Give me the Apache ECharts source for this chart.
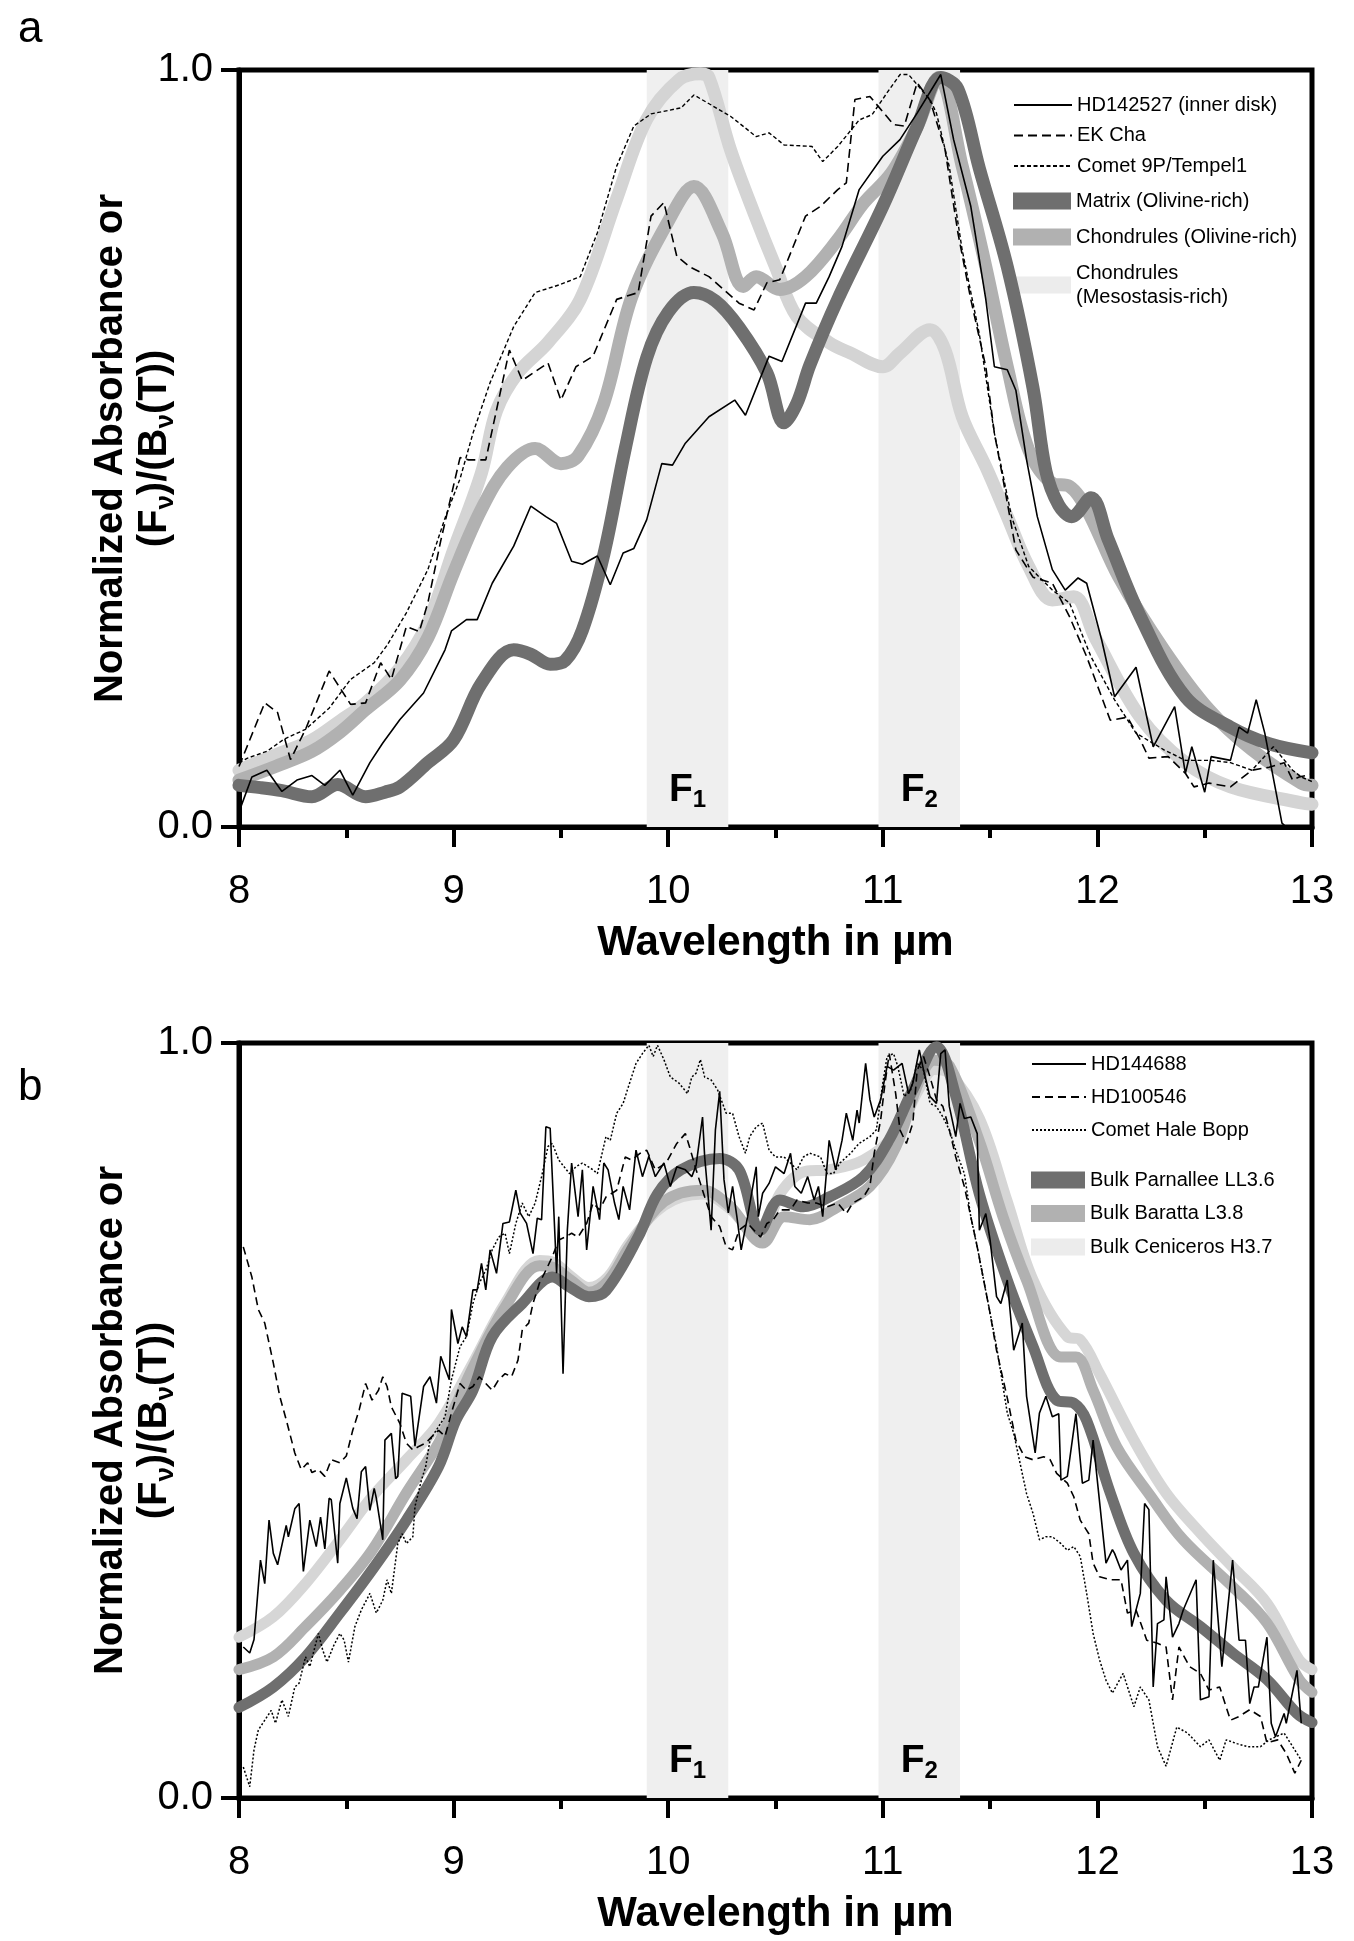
<!DOCTYPE html>
<html>
<head>
<meta charset="utf-8">
<script src="https://cdn.jsdelivr.net/npm/echarts@6/dist/echarts.min.js"></script>
<style>
html,body{margin:0;padding:0;background:#fff;}
#chart{width:1354px;height:1941px;}
</style>
</head>
<body>
<div id="chart"></div>
<script>
// ---------------- DATA ----------------
const xRange = [8, 13];
const yTickLabels = ['0.0', '1.0'];
const bandsF = [[9.90, 10.28, '1'], [10.98, 11.36, '2']];

// Panel a
const aMatrix = [[8.0,0.055],[8.1,0.052],[8.2,0.048],[8.34,0.040],[8.46,0.056],[8.59,0.040],[8.68,0.046],[8.75,0.053],[8.88,0.085],[9.0,0.115],[9.13,0.19],[9.28,0.234],[9.36,0.228],[9.45,0.215],[9.52,0.22],[9.6,0.26],[9.7,0.36],[9.8,0.50],[9.9,0.62],[10.0,0.68],[10.12,0.706],[10.22,0.695],[10.33,0.66],[10.46,0.60],[10.54,0.534],[10.6,0.56],[10.66,0.61],[10.79,0.697],[11.0,0.82],[11.16,0.925],[11.27,0.99],[11.35,0.975],[11.45,0.87],[11.58,0.74],[11.70,0.58],[11.76,0.47],[11.82,0.425],[11.88,0.41],[11.97,0.435],[12.05,0.38],[12.2,0.278],[12.41,0.172],[12.62,0.132],[12.8,0.11],[13.0,0.098]];
const aOlivine = [[8.0,0.062],[8.17,0.08],[8.34,0.10],[8.47,0.125],[8.59,0.155],[8.75,0.194],[8.88,0.25],[9.0,0.336],[9.13,0.42],[9.25,0.475],[9.38,0.50],[9.5,0.48],[9.58,0.49],[9.7,0.56],[9.83,0.70],[10.0,0.80],[10.12,0.846],[10.25,0.785],[10.35,0.714],[10.41,0.727],[10.52,0.71],[10.64,0.727],[10.79,0.776],[10.91,0.824],[11.04,0.864],[11.16,0.925],[11.26,0.99],[11.37,0.873],[11.48,0.74],[11.58,0.608],[11.68,0.498],[11.79,0.454],[11.87,0.45],[11.95,0.42],[12.1,0.33],[12.31,0.234],[12.52,0.155],[12.72,0.102],[12.95,0.058],[13.0,0.055]];
const aMeso = [[8.0,0.075],[8.17,0.095],[8.34,0.115],[8.47,0.14],[8.59,0.164],[8.75,0.21],[8.88,0.27],[9.0,0.366],[9.13,0.468],[9.2,0.55],[9.3,0.6],[9.44,0.64],[9.59,0.697],[9.76,0.83],[9.9,0.935],[10.05,0.987],[10.15,0.995],[10.19,0.99],[10.29,0.895],[10.4,0.811],[10.5,0.74],[10.6,0.674],[10.75,0.64],[10.85,0.626],[11.0,0.608],[11.08,0.626],[11.22,0.657],[11.29,0.63],[11.37,0.542],[11.48,0.476],[11.58,0.41],[11.68,0.344],[11.79,0.30],[11.89,0.304],[11.99,0.25],[12.2,0.145],[12.41,0.085],[12.62,0.053],[12.95,0.032],[13.0,0.03]];
const aHD142527 = [[8.0,0.02],[8.06,0.066],[8.13,0.075],[8.2,0.047],[8.27,0.062],[8.34,0.068],[8.4,0.055],[8.47,0.075],[8.53,0.042],[8.61,0.085],[8.67,0.111],[8.75,0.142],[8.86,0.177],[8.96,0.234],[8.99,0.259],[9.06,0.274],[9.11,0.274],[9.18,0.322],[9.28,0.371],[9.36,0.424],[9.43,0.41],[9.48,0.401],[9.55,0.351],[9.6,0.347],[9.67,0.358],[9.73,0.32],[9.79,0.362],[9.84,0.368],[9.9,0.406],[9.97,0.48],[10.02,0.478],[10.08,0.507],[10.19,0.542],[10.31,0.564],[10.36,0.544],[10.47,0.622],[10.53,0.615],[10.64,0.692],[10.69,0.692],[10.75,0.727],[10.81,0.767],[10.89,0.842],[11.0,0.886],[11.08,0.908],[11.16,0.943],[11.27,0.994],[11.33,0.908],[11.41,0.82],[11.48,0.697],[11.52,0.608],[11.58,0.604],[11.62,0.577],[11.67,0.485],[11.72,0.41],[11.79,0.34],[11.85,0.313],[11.91,0.329],[11.95,0.322],[12.02,0.247],[12.08,0.172],[12.18,0.211],[12.26,0.106],[12.36,0.159],[12.41,0.071],[12.44,0.106],[12.5,0.046],[12.53,0.093],[12.62,0.088],[12.66,0.132],[12.7,0.124],[12.74,0.168],[12.78,0.124],[12.86,0.005],[12.88,0.0]];
const aEKCha = [[8.0,0.08],[8.12,0.164],[8.18,0.151],[8.24,0.089],[8.31,0.129],[8.42,0.206],[8.52,0.162],[8.59,0.164],[8.66,0.217],[8.71,0.195],[8.78,0.265],[8.84,0.258],[8.88,0.296],[8.94,0.378],[9.03,0.488],[9.07,0.485],[9.15,0.485],[9.26,0.63],[9.32,0.59],[9.44,0.613],[9.5,0.564],[9.57,0.608],[9.65,0.622],[9.76,0.697],[9.86,0.706],[9.92,0.807],[9.98,0.825],[10.04,0.754],[10.1,0.74],[10.19,0.727],[10.33,0.692],[10.4,0.683],[10.46,0.719],[10.52,0.723],[10.64,0.807],[10.71,0.82],[10.79,0.842],[10.83,0.851],[10.87,0.961],[10.94,0.965],[11.05,0.928],[11.1,0.926],[11.16,0.983],[11.22,0.96],[11.29,0.895],[11.35,0.785],[11.41,0.697],[11.48,0.608],[11.52,0.52],[11.56,0.46],[11.62,0.366],[11.7,0.33],[11.79,0.322],[11.87,0.278],[11.95,0.225],[12.06,0.141],[12.14,0.145],[12.2,0.115],[12.24,0.091],[12.33,0.093],[12.41,0.071],[12.45,0.053],[12.52,0.058],[12.62,0.053],[12.72,0.075],[12.8,0.079],[12.87,0.085],[12.91,0.062],[12.94,0.066],[13.0,0.07]];
const aComet9P = [[8.0,0.085],[8.04,0.091],[8.13,0.10],[8.21,0.116],[8.31,0.129],[8.42,0.157],[8.52,0.195],[8.63,0.217],[8.69,0.24],[8.78,0.283],[8.88,0.34],[8.96,0.408],[9.03,0.46],[9.09,0.52],[9.17,0.587],[9.28,0.661],[9.38,0.706],[9.49,0.716],[9.59,0.727],[9.67,0.785],[9.76,0.873],[9.84,0.926],[9.92,0.942],[10.06,0.95],[10.12,0.967],[10.29,0.939],[10.41,0.912],[10.47,0.917],[10.54,0.901],[10.67,0.899],[10.72,0.879],[10.79,0.899],[10.89,0.934],[10.95,0.941],[11.02,0.97],[11.08,0.994],[11.12,0.994],[11.18,0.974],[11.22,0.961],[11.25,0.943],[11.31,0.872],[11.37,0.762],[11.45,0.651],[11.52,0.52],[11.6,0.41],[11.68,0.344],[11.79,0.313],[11.87,0.296],[11.97,0.225],[12.08,0.168],[12.18,0.124],[12.31,0.102],[12.41,0.088],[12.53,0.088],[12.62,0.085],[12.72,0.075],[12.82,0.106],[12.91,0.075],[12.95,0.066],[13.0,0.06]];

// Panel b
const bParnallee = [[8.0,0.12],[8.16,0.147],[8.31,0.187],[8.47,0.245],[8.62,0.302],[8.78,0.368],[8.93,0.439],[9.01,0.50],[9.09,0.54],[9.18,0.611],[9.32,0.655],[9.46,0.69],[9.54,0.677],[9.63,0.664],[9.71,0.672],[9.86,0.743],[9.95,0.80],[10.06,0.832],[10.24,0.847],[10.33,0.832],[10.43,0.752],[10.52,0.792],[10.63,0.783],[10.75,0.796],[10.91,0.823],[11.03,0.872],[11.14,0.938],[11.25,0.995],[11.34,0.93],[11.45,0.80],[11.58,0.686],[11.70,0.598],[11.81,0.527],[11.89,0.523],[11.95,0.50],[12.06,0.404],[12.17,0.324],[12.32,0.262],[12.48,0.227],[12.63,0.192],[12.79,0.157],[12.93,0.112],[13.0,0.10]];
const bBaratta = [[8.0,0.17],[8.16,0.187],[8.31,0.227],[8.47,0.275],[8.62,0.328],[8.78,0.404],[8.93,0.47],[9.01,0.52],[9.09,0.57],[9.24,0.65],[9.4,0.705],[9.46,0.703],[9.55,0.685],[9.63,0.67],[9.72,0.685],[9.82,0.73],[9.98,0.79],[10.16,0.805],[10.29,0.783],[10.44,0.735],[10.54,0.77],[10.66,0.766],[10.79,0.783],[10.94,0.81],[11.06,0.862],[11.17,0.95],[11.24,0.977],[11.31,0.97],[11.45,0.87],[11.56,0.77],[11.67,0.686],[11.83,0.584],[11.9,0.584],[11.98,0.54],[12.09,0.465],[12.25,0.399],[12.4,0.342],[12.63,0.28],[12.79,0.232],[12.94,0.157],[13.0,0.14]];
const bCeniceros = [[8.0,0.213],[8.16,0.24],[8.31,0.284],[8.47,0.342],[8.62,0.399],[8.78,0.448],[8.93,0.496],[9.09,0.576],[9.24,0.655],[9.4,0.712],[9.46,0.71],[9.55,0.69],[9.63,0.676],[9.72,0.69],[9.82,0.735],[9.98,0.785],[10.16,0.80],[10.29,0.78],[10.43,0.74],[10.52,0.80],[10.64,0.83],[10.75,0.832],[10.91,0.845],[11.06,0.88],[11.17,0.94],[11.24,0.965],[11.31,0.96],[11.45,0.90],[11.58,0.79],[11.70,0.686],[11.86,0.611],[11.92,0.607],[12.01,0.562],[12.17,0.474],[12.32,0.404],[12.48,0.351],[12.63,0.306],[12.79,0.258],[12.94,0.183],[13.0,0.17]];
const bHD144688 = [[8.02,0.2],[8.05,0.192],[8.07,0.21],[8.1,0.315],[8.12,0.284],[8.14,0.368],[8.16,0.324],[8.18,0.309],[8.22,0.361],[8.23,0.346],[8.26,0.383],[8.28,0.39],[8.3,0.3],[8.33,0.368],[8.36,0.333],[8.38,0.372],[8.4,0.33],[8.42,0.397],[8.43,0.395],[8.46,0.311],[8.47,0.39],[8.5,0.424],[8.53,0.384],[8.55,0.37],[8.57,0.432],[8.59,0.439],[8.61,0.381],[8.63,0.41],[8.64,0.397],[8.67,0.342],[8.68,0.474],[8.71,0.483],[8.73,0.423],[8.74,0.426],[8.76,0.536],[8.8,0.532],[8.82,0.466],[8.86,0.545],[8.89,0.558],[8.92,0.523],[8.94,0.585],[8.98,0.554],[8.99,0.647],[9.02,0.602],[9.04,0.624],[9.06,0.611],[9.09,0.673],[9.11,0.673],[9.13,0.708],[9.15,0.673],[9.17,0.726],[9.2,0.695],[9.23,0.761],[9.26,0.763],[9.29,0.805],[9.31,0.775],[9.34,0.761],[9.37,0.721],[9.39,0.768],[9.41,0.766],[9.43,0.889],[9.45,0.887],[9.48,0.695],[9.49,0.77],[9.51,0.562],[9.53,0.752],[9.55,0.841],[9.58,0.77],[9.6,0.832],[9.62,0.726],[9.65,0.81],[9.68,0.766],[9.7,0.841],[9.72,0.832],[9.75,0.788],[9.77,0.766],[9.79,0.81],[9.82,0.779],[9.85,0.858],[9.88,0.823],[9.91,0.85],[9.94,0.823],[9.98,0.841],[10.01,0.81],[10.04,0.836],[10.08,0.832],[10.11,0.823],[10.13,0.838],[10.16,0.902],[10.17,0.849],[10.2,0.752],[10.22,0.885],[10.24,0.936],[10.26,0.819],[10.28,0.775],[10.3,0.81],[10.32,0.77],[10.34,0.726],[10.37,0.77],[10.41,0.836],[10.42,0.77],[10.44,0.801],[10.47,0.814],[10.5,0.836],[10.54,0.827],[10.57,0.854],[10.59,0.81],[10.62,0.801],[10.65,0.823],[10.68,0.792],[10.7,0.81],[10.72,0.77],[10.75,0.871],[10.78,0.832],[10.81,0.871],[10.83,0.907],[10.86,0.871],[10.88,0.911],[10.89,0.894],[10.92,0.973],[10.94,0.925],[10.96,0.902],[10.99,0.925],[11.02,0.969],[11.05,0.964],[11.09,0.973],[11.12,0.933],[11.14,0.947],[11.17,0.991],[11.19,0.964],[11.22,0.929],[11.25,0.92],[11.27,0.986],[11.29,0.991],[11.31,0.916],[11.34,0.876],[11.36,0.92],[11.38,0.9],[11.41,0.902],[11.44,0.88],[11.45,0.752],[11.48,0.774],[11.5,0.739],[11.53,0.664],[11.55,0.655],[11.58,0.686],[11.61,0.593],[11.65,0.629],[11.67,0.532],[11.71,0.457],[11.73,0.51],[11.76,0.532],[11.79,0.505],[11.82,0.509],[11.83,0.421],[11.86,0.426],[11.9,0.509],[11.93,0.417],[11.96,0.421],[11.98,0.474],[12.04,0.311],[12.07,0.329],[12.08,0.324],[12.11,0.302],[12.14,0.315],[12.16,0.227],[12.2,0.271],[12.22,0.39],[12.24,0.382],[12.26,0.147],[12.28,0.231],[12.31,0.236],[12.32,0.293],[12.35,0.213],[12.38,0.231],[12.4,0.249],[12.46,0.289],[12.48,0.13],[12.52,0.134],[12.54,0.315],[12.58,0.174],[12.63,0.315],[12.66,0.209],[12.69,0.209],[12.71,0.125],[12.73,0.147],[12.75,0.147],[12.79,0.213],[12.81,0.099],[12.83,0.081],[12.87,0.112],[12.88,0.099],[12.93,0.169],[12.95,0.099]];
const bHD100546 = [[8.02,0.73],[8.06,0.69],[8.09,0.647],[8.12,0.629],[8.16,0.576],[8.19,0.532],[8.22,0.501],[8.26,0.457],[8.29,0.435],[8.32,0.444],[8.34,0.431],[8.37,0.435],[8.4,0.426],[8.43,0.448],[8.47,0.444],[8.5,0.453],[8.53,0.487],[8.56,0.514],[8.59,0.549],[8.62,0.527],[8.65,0.54],[8.67,0.558],[8.69,0.545],[8.71,0.518],[8.75,0.496],[8.78,0.47],[8.81,0.461],[8.84,0.466],[8.87,0.47],[8.9,0.479],[8.93,0.487],[8.96,0.479],[8.99,0.51],[9.03,0.549],[9.06,0.54],[9.09,0.545],[9.12,0.558],[9.15,0.549],[9.18,0.54],[9.21,0.554],[9.24,0.562],[9.27,0.558],[9.3,0.58],[9.32,0.62],[9.35,0.629],[9.37,0.655],[9.4,0.682],[9.43,0.699],[9.46,0.717],[9.49,0.739],[9.52,0.743],[9.55,0.748],[9.58,0.743],[9.62,0.761],[9.65,0.788],[9.68,0.779],[9.71,0.796],[9.76,0.805],[9.8,0.849],[9.83,0.845],[9.87,0.854],[9.9,0.858],[9.94,0.832],[9.99,0.841],[10.04,0.867],[10.08,0.88],[10.1,0.862],[10.13,0.832],[10.16,0.805],[10.2,0.77],[10.24,0.757],[10.27,0.73],[10.3,0.726],[10.33,0.752],[10.37,0.761],[10.4,0.752],[10.43,0.743],[10.46,0.761],[10.49,0.766],[10.52,0.779],[10.57,0.779],[10.6,0.792],[10.65,0.788],[10.69,0.788],[10.74,0.783],[10.79,0.788],[10.83,0.774],[10.86,0.788],[10.91,0.796],[10.94,0.81],[10.96,0.854],[10.99,0.898],[11.01,0.946],[11.03,0.986],[11.06,0.933],[11.08,0.885],[11.11,0.867],[11.14,0.894],[11.16,0.964],[11.19,0.982],[11.22,0.955],[11.25,0.925],[11.28,0.916],[11.31,0.885],[11.34,0.849],[11.38,0.81],[11.41,0.77],[11.44,0.73],[11.47,0.686],[11.5,0.642],[11.53,0.593],[11.58,0.53],[11.62,0.474],[11.66,0.452],[11.7,0.448],[11.75,0.452],[11.78,0.448],[11.81,0.43],[11.86,0.417],[11.89,0.399],[11.92,0.368],[11.96,0.35],[11.98,0.311],[12.01,0.293],[12.06,0.289],[12.11,0.289],[12.14,0.245],[12.18,0.249],[12.23,0.209],[12.28,0.205],[12.32,0.2],[12.35,0.13],[12.38,0.2],[12.43,0.174],[12.48,0.165],[12.52,0.143],[12.57,0.147],[12.62,0.103],[12.66,0.108],[12.71,0.117],[12.76,0.108],[12.79,0.073],[12.84,0.077],[12.88,0.059],[12.92,0.033],[12.95,0.05]];
const bHaleBopp = [[8.02,0.041],[8.05,0.015],[8.07,0.064],[8.09,0.09],[8.12,0.103],[8.15,0.116],[8.17,0.099],[8.2,0.13],[8.23,0.108],[8.26,0.147],[8.28,0.152],[8.31,0.187],[8.33,0.174],[8.37,0.218],[8.39,0.196],[8.41,0.18],[8.44,0.201],[8.47,0.218],[8.49,0.209],[8.51,0.18],[8.54,0.227],[8.57,0.249],[8.61,0.271],[8.64,0.245],[8.67,0.262],[8.69,0.289],[8.71,0.271],[8.74,0.337],[8.76,0.35],[8.78,0.337],[8.81,0.346],[8.82,0.386],[8.85,0.421],[8.87,0.439],[8.89,0.474],[8.93,0.492],[8.96,0.505],[8.99,0.554],[9.03,0.598],[9.06,0.611],[9.09,0.655],[9.12,0.682],[9.15,0.699],[9.18,0.726],[9.21,0.743],[9.24,0.748],[9.26,0.721],[9.29,0.761],[9.32,0.788],[9.35,0.77],[9.38,0.788],[9.41,0.823],[9.44,0.863],[9.46,0.867],[9.49,0.845],[9.54,0.827],[9.57,0.836],[9.6,0.841],[9.65,0.832],[9.67,0.827],[9.71,0.876],[9.73,0.871],[9.76,0.907],[9.79,0.92],[9.81,0.938],[9.85,0.973],[9.88,0.986],[9.91,0.997],[9.93,0.982],[9.95,0.997],[9.98,0.978],[10.01,0.955],[10.05,0.947],[10.09,0.933],[10.11,0.955],[10.13,0.96],[10.15,0.978],[10.17,0.955],[10.2,0.951],[10.23,0.938],[10.27,0.907],[10.3,0.907],[10.33,0.876],[10.36,0.854],[10.38,0.876],[10.41,0.889],[10.44,0.894],[10.47,0.858],[10.5,0.849],[10.54,0.849],[10.57,0.841],[10.6,0.832],[10.63,0.849],[10.66,0.854],[10.71,0.849],[10.74,0.827],[10.77,0.827],[10.8,0.841],[10.85,0.854],[10.89,0.867],[10.94,0.876],[10.97,0.885],[11.0,0.947],[11.02,0.982],[11.05,0.986],[11.07,0.969],[11.1,0.929],[11.13,0.938],[11.16,0.973],[11.19,0.964],[11.22,0.92],[11.25,0.916],[11.28,0.902],[11.31,0.885],[11.34,0.858],[11.38,0.827],[11.41,0.77],[11.44,0.73],[11.47,0.686],[11.5,0.642],[11.53,0.598],[11.55,0.563],[11.58,0.51],[11.61,0.483],[11.64,0.443],[11.67,0.403],[11.7,0.377],[11.73,0.342],[11.76,0.346],[11.79,0.346],[11.83,0.337],[11.86,0.328],[11.89,0.333],[11.92,0.32],[11.95,0.271],[11.98,0.218],[12.01,0.183],[12.04,0.156],[12.07,0.139],[12.12,0.165],[12.17,0.121],[12.2,0.147],[12.24,0.13],[12.28,0.068],[12.32,0.042],[12.37,0.094],[12.42,0.086],[12.48,0.068],[12.52,0.077],[12.57,0.05],[12.6,0.077],[12.65,0.072],[12.7,0.068],[12.76,0.068],[12.8,0.077],[12.87,0.086],[12.91,0.068],[12.95,0.05]];

// ---------------- STYLE ----------------
const FONT = "'Liberation Sans', Arial, Helvetica, sans-serif";
const DARK = '#6f6f6f', MID = '#b1b1b1', LIGHT = '#d4d4d4', PALE = '#ececec';

function xAxisCfg(gi) {
  return {
    type: 'value', gridIndex: gi, min: xRange[0], max: xRange[1], interval: 1,
    name: 'Wavelength in \u00b5m', nameLocation: 'middle', nameGap: 95, nameMoveOverlap: false,
    nameTextStyle: {fontFamily: FONT, fontSize: 42, fontWeight: 'bold', color: '#000'},
    axisLine: {show: true, onZero: false, lineStyle: {color: '#000', width: 5}},
    axisTick: {show: true, inside: false, length: 20, lineStyle: {color: '#000', width: 4}},
    minorTick: {show: true, splitNumber: 2, length: 11, lineStyle: {color: '#000', width: 4}},
    axisLabel: {fontFamily: FONT, fontSize: 40, color: '#000', margin: 45},
    splitLine: {show: false}
  };
}
function yAxisCfg(gi) {
  return {
    type: 'value', gridIndex: gi, min: 0, max: 1, interval: 1,
    name: '{t|Normalized Absorbance or}\n{u|(F}{s|\u03bd}{u|)/(B}{s|\u03bd}{u|(T))}',
    nameLocation: 'middle', nameRotate: 90, nameGap: 60, nameMoveOverlap: false,
    nameTextStyle: {
      color: '#000',
      rich: {
        t: {fontFamily: FONT, fontSize: 40, fontWeight: 'bold', color: '#000', lineHeight: 48},
        u: {fontFamily: FONT, fontSize: 40, fontWeight: 'bold', color: '#000', lineHeight: 44, padding: [0,0,4,0], verticalAlign: 'bottom'},
        s: {fontFamily: FONT, fontSize: 26, fontWeight: 'bold', color: '#000', lineHeight: 26, verticalAlign: 'bottom'}
      }
    },
    axisLine: {show: true, onZero: false, lineStyle: {color: '#000', width: 5}},
    axisTick: {show: true, inside: false, length: 18, lineStyle: {color: '#000', width: 4}},
    axisLabel: {fontFamily: FONT, fontSize: 40, color: '#000', margin: 26,
      formatter: v => yTickLabels[Math.round(v)]},
    splitLine: {show: false}
  };
}
function bandSeries(gi) {
  return {
    type: 'line', xAxisIndex: gi, yAxisIndex: gi, data: [], z: 1, silent: true,
    markArea: {
      silent: true,
      itemStyle: {color: '#efefef'},
      label: {
        show: true, position: 'insideBottom', distance: 15,
        formatter: p => '{f|F}{s|' + p.name + '}',
        rich: {
          f: {fontFamily: FONT, fontSize: 39, fontWeight: 'bold', color: '#000', lineHeight: 39, padding: [0,0,2,0], verticalAlign: 'bottom'},
          s: {fontFamily: FONT, fontSize: 24, fontWeight: 'bold', color: '#000', lineHeight: 24, verticalAlign: 'bottom'}
        }
      },
      data: bandsF.map(b => [{xAxis: b[0], name: b[2]}, {xAxis: b[1]}])
    }
  };
}
function thick(name, data, color, gi, w, z) {
  return {name, type: 'line', data, xAxisIndex: gi, yAxisIndex: gi, symbol: 'none', smooth: 0.35,
    z: z, lineStyle: {color, width: w, cap: 'round', join: 'round'}, itemStyle: {color}};
}
function thin(name, data, dash, gi, w) {
  return {name, type: 'line', data, xAxisIndex: gi, yAxisIndex: gi, symbol: 'none', smooth: false,
    z: 5, lineStyle: {color: '#000', width: w, type: dash}, itemStyle: {color: '#000'}};
}
const legendText = {fontFamily: FONT, fontSize: 20, color: '#000', lineHeight: 24};
function legendCfg(items, left, top, gap, w, hideSymbol) {
  const cfg = {orient: 'vertical', left, top, itemGap: gap, itemWidth: w, itemHeight: 17,
    textStyle: legendText, selectedMode: false, data: items};
  if (hideSymbol) cfg.itemStyle = {color: 'transparent', borderColor: 'transparent', borderWidth: 0, opacity: 0};
  return cfg;
}

const option = {
  animation: false,
  backgroundColor: '#fff',
  grid: [
    {left: 239, top: 70, width: 1073, height: 757, show: true, borderColor: '#000', borderWidth: 5, backgroundColor: 'transparent'},
    {left: 239, top: 1043, width: 1073, height: 755, show: true, borderColor: '#000', borderWidth: 5, backgroundColor: 'transparent'}
  ],
  xAxis: [xAxisCfg(0), xAxisCfg(1)],
  yAxis: [yAxisCfg(0), yAxisCfg(1)],
  legend: [
    legendCfg([{name: 'HD142527 (inner disk)'}, {name: 'EK Cha'}, {name: 'Comet 9P/Tempel1'}], 1008, 88, 6.5, 58, true),
    legendCfg([{name: 'Matrix (Olivine-rich)', icon: 'rect'}, {name: 'Chondrules (Olivine-rich)', icon: 'rect'},
               {name: 'Chondrules\n(Mesostasis-rich)', icon: 'rect', itemStyle: {color: PALE}}], 1008, 184, 12, 58, false),
    legendCfg([{name: 'HD144688'}, {name: 'HD100546'}, {name: 'Comet Hale Bopp'}], 1026, 1047, 9, 54, true),
    legendCfg([{name: 'Bulk Parnallee LL3.6', icon: 'rect'}, {name: 'Bulk Baratta L3.8', icon: 'rect'},
               {name: 'Bulk Ceniceros H3.7', icon: 'rect', itemStyle: {color: PALE}}], 1026, 1163, 9.5, 54, false)
  ],
  graphic: [
    {type: 'text', left: 18, top: 8, style: {text: 'a', fontFamily: FONT, fontSize: 44, fill: '#000'}},
    {type: 'text', left: 18, top: 1066, style: {text: 'b', fontFamily: FONT, fontSize: 44, fill: '#000'}}
  ],
  series: [
    bandSeries(0),
    thick('Chondrules\n(Mesostasis-rich)', aMeso, LIGHT, 0, 13, 2),
    thick('Chondrules (Olivine-rich)', aOlivine, MID, 0, 13, 3),
    thick('Matrix (Olivine-rich)', aMatrix, DARK, 0, 13, 4),
    thin('HD142527 (inner disk)', aHD142527, 'solid', 0, 1.6),
    thin('EK Cha', aEKCha, [9, 5], 0, 1.6),
    thin('Comet 9P/Tempel1', aComet9P, [4, 2.5], 0, 1.4),
    bandSeries(1),
    thick('Bulk Ceniceros H3.7', bCeniceros, '#d6d6d6', 1, 11, 2),
    thick('Bulk Baratta L3.8', bBaratta, MID, 1, 11, 3),
    thick('Bulk Parnallee LL3.6', bParnallee, DARK, 1, 11, 4),
    thin('HD144688', bHD144688, 'solid', 1, 1.6),
    thin('HD100546', bHD100546, [8, 5], 1, 1.6),
    thin('Comet Hale Bopp', bHaleBopp, [2, 2], 1, 1.5)
  ]
};
const chart = echarts.init(document.getElementById('chart'), null, {renderer: 'canvas'});
chart.setOption(option);
</script>
</body>
</html>
